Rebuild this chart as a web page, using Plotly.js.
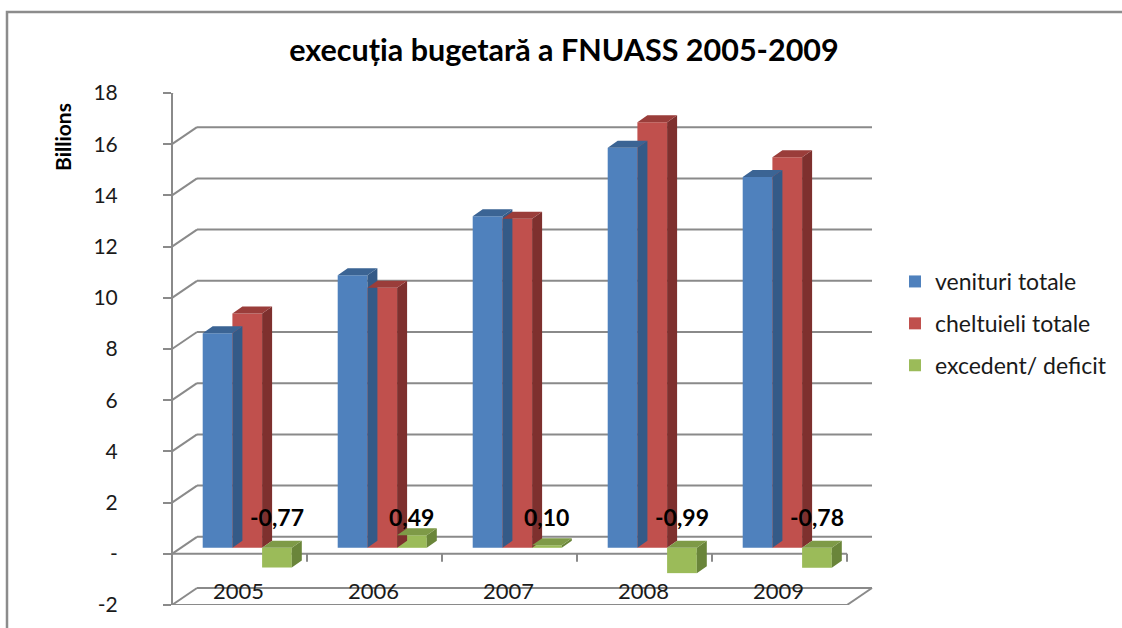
<!DOCTYPE html>
<html>
<head>
<meta charset="utf-8">
<script src="https://cdn.plot.ly/plotly-3.0.1.min.js"></script>
<style>html,body{margin:0;padding:0;background:#fff;}#chart{width:1122px;height:628px;}</style>
</head>
<body>
<div id="chart"></div>
<script>
// ---- data ----
const years = [2005, 2006, 2007, 2008, 2009];
const venituri = [8.38, 10.65, 12.95, 15.63, 14.48];
const cheltuieli = [9.15, 10.16, 12.85, 16.62, 15.26];
const excedent = [-0.77, 0.49, 0.10, -0.99, -0.78];
const seriesNames = ['venituri totale', 'cheltuieli totale', 'excedent/ deficit'];
const yTickVals = [-2, 0, 2, 4, 6, 8, 10, 12, 14, 16, 18];
const yTickText = ['-2', '-', '2', '4', '6', '8', '10', '12', '14', '16', '18'];
const chartTitle = 'execuția bugetară a FNUASS 2005-2009';
const yTitle = 'Billions';

// ---- geometry (pixels) ----
const W = 1122, H = 628;
const frontL = 172, frontR = 847, frontTop = 93, frontBot = 605;
const wallDX = 25, wallDY = 17;       // back wall offset
const planeDX = 9, planeDY = 6;       // bar plane offset
const pxPerYear = (frontR - frontL) / years.length;
const pxPerUnit = (frontBot - frontTop) / (yTickVals[yTickVals.length - 1] - yTickVals[0]);
const barW = 29.7 / pxPerYear;
const off0 = -45.8 / pxPerYear;
const offsets = [off0, off0 + barW, off0 + 2 * barW];
const depthX = 10 / pxPerYear, depthY = 7 / pxPerUnit;
const wallUnits = wallDY / pxPerUnit;
const px = v => v / W, py = v => 1 - v / H;

const front = ['#4f81bd', '#c0504d', '#9bbb59'];
const topC = ['#3b6494', '#9a3d3a', '#7e9a47'];
const sideC = ['#345a87', '#7e302e', '#6a853a'];
const gridC = '#8a8a8a';
const font = 'Lato, "Noto Sans", sans-serif';

const seriesVals = [venituri, cheltuieli, excedent];
const traces = [];

function faces(vals, off, which) {
  const xs = [], ys = [];
  vals.forEach((v, i) => {
    const xl = years[i] + off, xr = xl + barW;
    const t = Math.max(v, 0), b = Math.min(v, 0);
    if (which === 'top') {
      xs.push(xl, xr, xr + depthX, xl + depthX, xl, null);
      ys.push(t, t, t + depthY, t + depthY, t, null);
    } else {
      xs.push(xr, xr + depthX, xr + depthX, xr, xr, null);
      ys.push(b, b + depthY, t + depthY, t, b, null);
    }
  });
  return {xs, ys};
}

seriesVals.forEach((vals, s) => {
  const side = faces(vals, offsets[s], 'side');
  traces.push({type: 'scatter', mode: 'lines', x: side.xs, y: side.ys, fill: 'toself',
    fillcolor: sideC[s], line: {width: 0, color: sideC[s]}, showlegend: false, hoverinfo: 'skip'});
  traces.push({type: 'bar', name: seriesNames[s], x: years, y: vals, offset: offsets[s], width: barW,
    marker: {color: front[s], line: {width: 0}}, legendgroup: 'g' + s});
  const top = faces(vals, offsets[s], 'top');
  traces.push({type: 'scatter', mode: 'lines', x: top.xs, y: top.ys, fill: 'toself',
    fillcolor: topC[s], line: {width: 0, color: topC[s]}, showlegend: false, hoverinfo: 'skip'});
});
// anchor trace for the front axis subplot (invisible)
traces.push({type: 'scatter', mode: 'markers', x: [years[0]], y: [0], xaxis: 'x', yaxis: 'y2',
  marker: {opacity: 0}, showlegend: false, hoverinfo: 'skip'});

// ---- decorations ----
const shapes = [];
const ln = {color: gridC, width: 2};
yTickVals.forEach(v => {
  shapes.push({type: 'line', layer: 'below', xref: 'paper', yref: 'y2',
    x0: px(frontL + wallDX), x1: px(frontR + wallDX), y0: v + wallUnits, y1: v + wallUnits, line: ln});
  shapes.push({type: 'line', layer: 'below', xref: 'paper', yref: 'y2',
    x0: px(frontL), x1: px(frontL + wallDX), y0: v, y1: v + wallUnits, line: ln});
});
// front zero line + category ticks
shapes.push({type: 'line', layer: 'below', xref: 'paper', yref: 'y2',
  x0: px(frontL), x1: px(frontR), y0: 0, y1: 0, line: ln});
years.forEach((y, i) => {
  shapes.push({type: 'line', layer: 'below', xref: 'paper', yref: 'y2',
    x0: px(frontL + pxPerYear * (i + 1)), x1: px(frontL + pxPerYear * (i + 1)),
    y0: 0, y1: -8 / pxPerUnit, line: ln});
});
// floor at -2
const yMin = yTickVals[0];
shapes.push({type: 'line', layer: 'below', xref: 'paper', yref: 'y2',
  x0: px(frontL), x1: px(frontR), y0: yMin, y1: yMin, line: ln});
shapes.push({type: 'line', layer: 'below', xref: 'paper', yref: 'y2',
  x0: px(frontR), x1: px(frontR + wallDX), y0: yMin, y1: yMin + wallUnits, line: ln});
// outer border
shapes.push({type: 'rect', layer: 'below', xref: 'paper', yref: 'paper',
  x0: px(7), x1: px(W + 10), y0: py(H + 10), y1: py(12), line: {color: '#8c8c8c', width: 2.5}});

// ---- annotations ----
const annotations = [];
excedent.forEach((v, i) => {
  annotations.push({xref: 'x', yref: 'y', x: years[i] + offsets[2] + barW / 2, y: 1.2,
    text: v.toFixed(2).replace('.', ','), showarrow: false,
    font: {family: font, size: 23, color: '#000', weight: 'bold'}});
});
years.forEach((y, i) => {
  annotations.push({xref: 'x', yref: 'y2', x: y, y: -1.43, xshift: -10,
    text: String(y), showarrow: false, font: {family: font, size: 22, color: '#1a1a1a'}});
});
annotations.push({xref: 'paper', yref: 'paper', x: px(62), y: py(137), xanchor: 'center', yanchor: 'middle',
  text: yTitle, textangle: -90, showarrow: false,
  font: {family: font, size: 21, color: '#000', weight: 'bold'}});

const layout = {
  width: W, height: H,
  margin: {l: 0, r: 0, t: 0, b: 0},
  paper_bgcolor: '#fff', plot_bgcolor: 'rgba(0,0,0,0)',
  showlegend: true,
  barmode: 'overlay',
  title: {text: chartTitle, x: px(564), xanchor: 'center', y: py(50), yanchor: 'middle',
    font: {family: font, size: 30.5, color: '#000', weight: 'bold'}},
  xaxis: {type: 'linear', domain: [px(frontL + planeDX), px(frontR + planeDX)],
    range: [years[0] - 0.5, years[years.length - 1] + 0.5],
    showgrid: false, zeroline: false, showticklabels: false, showline: false, ticks: '', fixedrange: true},
  yaxis: {domain: [py(frontBot - planeDY), py(frontTop - planeDY)],
    range: [yTickVals[0], yTickVals[yTickVals.length - 1]],
    showgrid: false, zeroline: false, showticklabels: false, showline: false, ticks: '', fixedrange: true},
  yaxis2: {domain: [py(frontBot), py(frontTop)], anchor: 'free', position: px(frontL),
    range: [yTickVals[0], yTickVals[yTickVals.length - 1]],
    tickmode: 'array', tickvals: yTickVals, ticktext: yTickText,
    ticks: 'outside', ticklen: 8, tickwidth: 2, tickcolor: gridC,
    showline: true, linecolor: gridC, linewidth: 2,
    showgrid: false, zeroline: false, ticklabelstandoff: 41,
    tickfont: {family: font, size: 21, color: '#1a1a1a'}, fixedrange: true},
  legend: {x: px(895), xanchor: 'left', y: py(260), yanchor: 'top',
    font: {family: font, size: 23, color: '#1a1a1a'}, tracegroupgap: 9,
    bgcolor: 'rgba(0,0,0,0)', traceorder: 'grouped'},
  shapes: shapes,
  annotations: annotations
};

Plotly.newPlot('chart', traces, layout, {staticPlot: true, displayModeBar: false});
</script>
</body>
</html>
